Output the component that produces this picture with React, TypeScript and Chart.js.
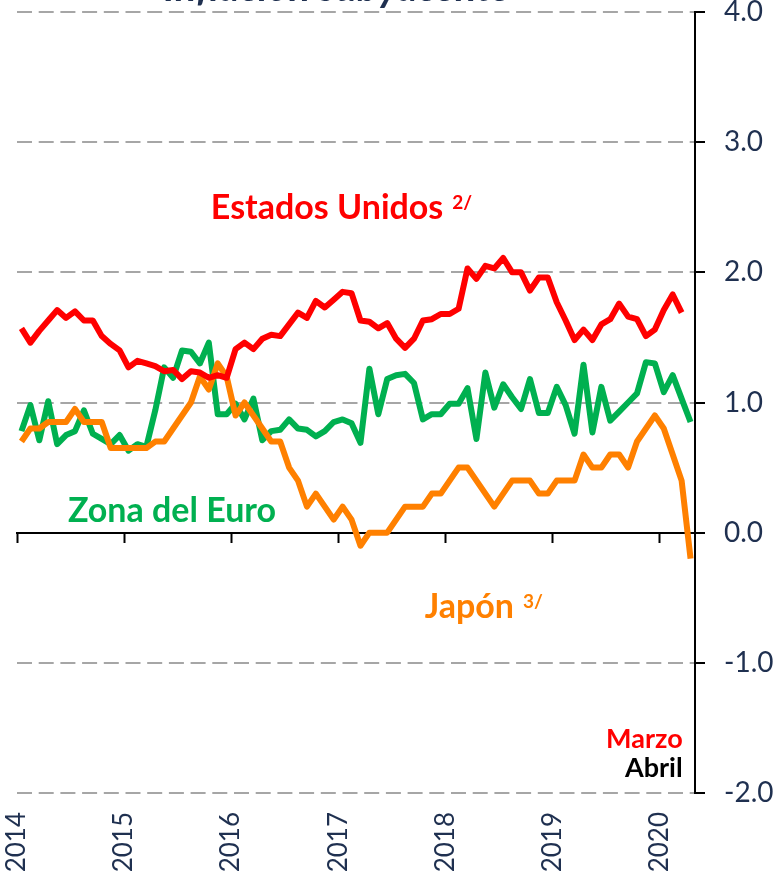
import React, { useEffect, useRef } from "react";
import { Chart, registerables } from "chart.js";

Chart.register(...registerables);

// Monthly data, Jan 2014 onward
const years = ["2014", "2015", "2016", "2017", "2018", "2019", "2020"];

const estadosUnidos = [
  1.57, 1.46, 1.55, 1.63, 1.71, 1.65, 1.70, 1.63, 1.63, 1.51, 1.45, 1.40,
  1.27, 1.32, 1.30, 1.28, 1.24, 1.25, 1.18, 1.24, 1.23, 1.19, 1.21, 1.19,
  1.41, 1.46, 1.41, 1.49, 1.52, 1.51, 1.60, 1.69, 1.65, 1.78, 1.73, 1.79,
  1.85, 1.84, 1.63, 1.62, 1.57, 1.61, 1.49, 1.42, 1.49, 1.63, 1.64, 1.68,
  1.68, 1.72, 2.03, 1.95, 2.05, 2.03, 2.11, 2.00, 2.00, 1.86, 1.96, 1.96,
  1.77, 1.63, 1.48, 1.56, 1.48, 1.60, 1.64, 1.76, 1.66, 1.64, 1.51, 1.56,
  1.71, 1.83, 1.69,
];

const zonaEuro = [
  0.78, 0.98, 0.71, 1.01, 0.68, 0.75, 0.78, 0.94, 0.76, 0.72, 0.68, 0.75,
  0.63, 0.68, 0.66, 0.94, 1.27, 1.19, 1.40, 1.39, 1.30, 1.46, 0.91, 0.91,
  0.99, 0.87, 1.03, 0.71, 0.78, 0.79, 0.87, 0.80, 0.79, 0.74, 0.78, 0.85,
  0.87, 0.84, 0.69, 1.26, 0.91, 1.18, 1.21, 1.22, 1.15, 0.87, 0.91, 0.91,
  0.99, 0.99, 1.11, 0.72, 1.23, 0.96, 1.14, 1.04, 0.95, 1.18, 0.92, 0.92,
  1.12, 0.98, 0.76, 1.29, 0.77, 1.12, 0.86, 0.93, 1.00, 1.07, 1.31, 1.30,
  1.08, 1.21, 1.03, 0.85,
];

const japon = [
  0.70, 0.80, 0.80, 0.85, 0.85, 0.85, 0.95, 0.85, 0.85, 0.85, 0.65, 0.65,
  0.65, 0.65, 0.65, 0.70, 0.70, 0.80, 0.90, 1.00, 1.20, 1.10, 1.30, 1.20,
  0.90, 1.00, 0.90, 0.80, 0.70, 0.70, 0.50, 0.40, 0.20, 0.30, 0.20, 0.10,
  0.20, 0.10, -0.10, 0.00, 0.00, 0.00, 0.10, 0.20, 0.20, 0.20, 0.30, 0.30,
  0.40, 0.50, 0.50, 0.40, 0.30, 0.20, 0.30, 0.40, 0.40, 0.40, 0.30, 0.30,
  0.40, 0.40, 0.40, 0.60, 0.50, 0.50, 0.60, 0.60, 0.50, 0.70, 0.80, 0.90,
  0.80, 0.60, 0.40, -0.20,
];

const yTickValues = [-2, -1, 0, 1, 2, 3, 4];
const titleText = "Inflación subyacente";

const RED = "#FF0000";
const GREEN = "#00B050";
const ORANGE = "#FF8000";
const NAVY = "#1F3050";
const FONT = "Lato, 'Open Sans', sans-serif";

// text annotations anchored in data space (month index, value)
const annotations = [
  { text: "Estados Unidos", sup: "2/", m: 21.23, v: 2.412, color: RED, size: 34, align: "left" },
  { text: "Zona del Euro", sup: "", m: 5.21, v: 0.079, color: GREEN, size: 34, align: "left" },
  { text: "Japón", sup: "3/", m: 45.21, v: -0.653, color: ORANGE, size: 34, align: "left" },
  { text: "Marzo", sup: "", m: 74.12, v: -1.651, color: RED, size: 27, align: "right" },
  { text: "Abril", sup: "", m: 74.12, v: -1.874, color: "#000000", size: 27, align: "right" },
];

const nMonths = japon.length;
const xMin = -0.5;
const xMax = nMonths - 0.5;
const yearTickValues = years.map((_, k) => -0.5 + 12 * k);

const textPlugin = {
  id: "textPlugin",
  afterDraw(chart: any) {
    const { ctx, scales } = chart;
    ctx.save();
    // title (cut off at the top like the reference)
    ctx.font = `italic bold 40px ${FONT}`;
    ctx.fillStyle = NAVY;
    ctx.textAlign = "center";
    ctx.textBaseline = "alphabetic";
    ctx.fillText(titleText, 337, 1);

    for (const a of annotations) {
      const px = scales.x.getPixelForValue(a.m);
      const py = scales.y.getPixelForValue(a.v);
      ctx.font = `bold ${a.size}px ${FONT}`;
      ctx.fillStyle = a.color;
      ctx.textAlign = a.align as CanvasTextAlign;
      ctx.fillText(a.text, px, py);
      if (a.sup) {
        const w = ctx.measureText(a.text).width;
        ctx.font = `bold 19px ${FONT}`;
        ctx.textAlign = "left";
        ctx.fillText(a.sup, px + w + 9, py - 10);
      }
    }
    ctx.restore();
  },
};

export default function App() {
  const ref = useRef<HTMLCanvasElement | null>(null);

  useEffect(() => {
    if (!ref.current) return;
    const toPts = (arr: number[]) => arr.map((v, i) => ({ x: i, y: v }));
    const lineDs = (label: string, arr: number[], color: string, order: number) => ({
      label,
      data: toPts(arr),
      borderColor: color,
      borderWidth: 6,
      pointRadius: 0,
      borderJoinStyle: "round",
      tension: 0,
      order,
      xAxisID: "x",
      yAxisID: "y",
    });
    const chart = new Chart(ref.current, {
      type: "line",
      data: {
        datasets: [
          lineDs("Estados Unidos", estadosUnidos, RED, 0),
          lineDs("Japón", japon, ORANGE, 1),
          lineDs("Zona del Euro", zonaEuro, GREEN, 2),
        ],
      },
      options: {
        animation: false,
        responsive: false,
        devicePixelRatio: 1,
        layout: { padding: { left: 17, top: 12, right: 0, bottom: 0 } },
        plugins: {
          legend: { display: false },
          tooltip: { enabled: false },
          title: { display: false },
        },
        scales: {
          x: {
            type: "linear",
            position: "bottom",
            min: xMin,
            max: xMax,
            afterBuildTicks: (s: any) => {
              s.ticks = yearTickValues.map((v) => ({ value: v }));
            },
            afterFit: (s: any) => {
              s.height = 86;
              s.paddingLeft = 0;
              s.paddingRight = 0;
            },
            grid: { display: false, drawTicks: false },
            border: { display: false },
            ticks: {
              autoSkip: false,
              minRotation: 90,
              maxRotation: 90,
              padding: 19,
              color: NAVY,
              font: { family: FONT, size: 26 },
              callback: (v: any) => years[Math.round((Number(v) + 0.5) / 12)] ?? "",
            },
          },
          x2: {
            type: "linear",
            position: { y: 0 } as any,
            min: xMin,
            max: xMax,
            afterBuildTicks: (s: any) => {
              s.ticks = yearTickValues.map((v) => ({ value: v }));
            },
            afterFit: (s: any) => {
              s.paddingLeft = 0;
              s.paddingRight = 0;
            },
            grid: {
              drawOnChartArea: false,
              drawTicks: true,
              tickLength: 9,
              tickWidth: 2,
              tickColor: "#000000",
            },
            border: { display: true, color: "#000000", width: 2 },
            ticks: { display: false },
          },
          y: {
            type: "linear",
            position: "right",
            min: -2,
            max: 4,
            afterBuildTicks: (s: any) => {
              s.ticks = yTickValues.map((v) => ({ value: v }));
            },
            afterFit: (s: any) => {
              s.width = 86;
              s.paddingTop = 0;
              s.paddingBottom = 0;
            },
            grid: {
              color: (c: any) => (c.tick && c.tick.value === 0 ? "rgba(0,0,0,0)" : "#A6A6A6"),
              lineWidth: 2,
              drawTicks: true,
              tickLength: 10,
              tickWidth: 2,
              tickColor: "#000000",
            },
            border: { display: true, color: "#000000", width: 2, dash: [15, 6.7] },
            ticks: {
              padding: 19,
              color: NAVY,
              font: { family: FONT, size: 28 },
              callback: (v: any) => Number(v).toFixed(1),
            },
          },
        },
      },
      plugins: [textPlugin],
    } as any);
    return () => chart.destroy();
  }, []);

  return (
    <div style={{ position: "fixed", left: 0, top: 0, width: 781, height: 879, background: "#ffffff" }}>
      <canvas ref={ref} width={781} height={879} style={{ display: "block" }} />
    </div>
  );
}
